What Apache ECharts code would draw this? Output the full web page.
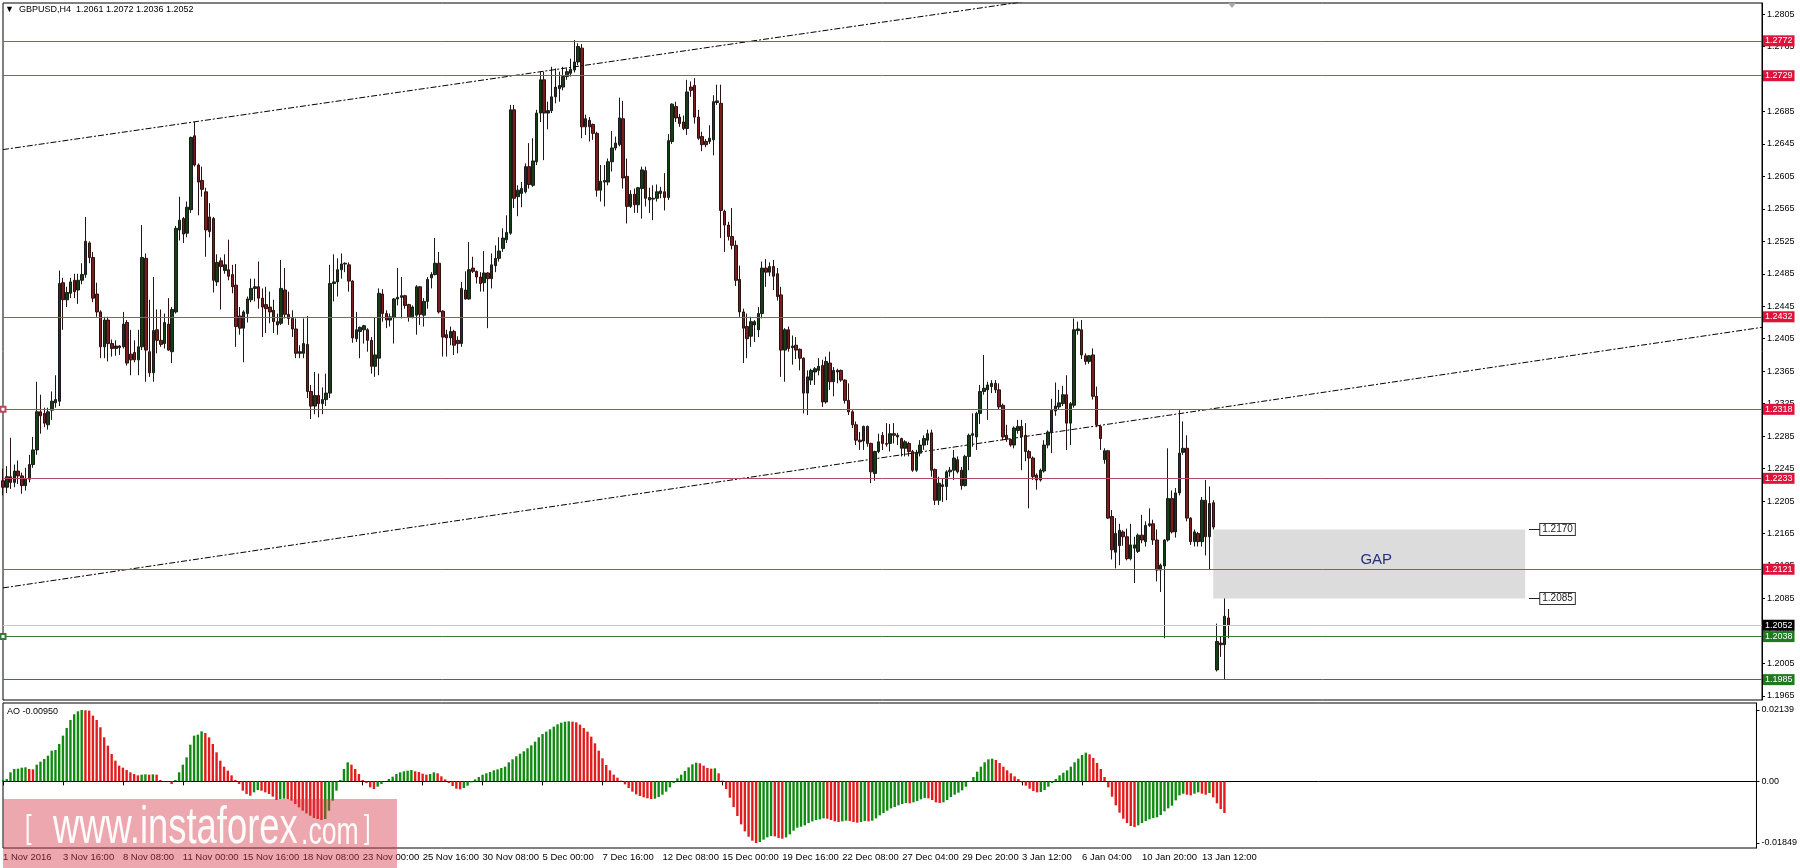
<!DOCTYPE html>
<html><head><meta charset="utf-8">
<script src="https://cdn.jsdelivr.net/npm/echarts@6/dist/echarts.min.js"></script>
<style>html,body{margin:0;padding:0;background:#fff}#c{width:1800px;height:868px}</style>
</head><body><div id="c"></div>
<script>
const xLabels = ['1 Nov 2016','3 Nov 16:00','8 Nov 08:00','11 Nov 00:00','15 Nov 16:00','18 Nov 08:00','23 Nov 00:00','25 Nov 16:00','30 Nov 08:00','5 Dec 00:00','7 Dec 16:00','12 Dec 08:00','15 Dec 00:00','19 Dec 16:00','22 Dec 08:00','27 Dec 04:00','29 Dec 20:00','3 Jan 12:00','6 Jan 04:00','10 Jan 20:00','13 Jan 12:00'];
const priceTicks = [1.2805,1.2765,1.2725,1.2685,1.2645,1.2605,1.2565,1.2525,1.2485,1.2445,1.2405,1.2365,1.2325,1.2285,1.2245,1.2205,1.2165,1.2125,1.2085,1.2045,1.2005,1.1965];
const aoTicks = [0.02139, 0, -0.01849];

// candles: [open, close, low, high]
const novBars = [
[1.2230,1.2222,1.2212,1.2245],[1.2222,1.2235,1.2215,1.2248],[1.2235,1.2228,1.2220,1.2283],[1.2228,1.2242,1.2222,1.2250],[1.2242,1.2236,1.2226,1.2255],
[1.2236,1.2224,1.2214,1.2240],[1.2224,1.2232,1.2218,1.2246],[1.2232,1.2250,1.2228,1.2262],[1.2250,1.2268,1.2246,1.2284],[1.2268,1.2315,1.2262,1.2352],
[1.2315,1.2310,1.2288,1.2336],[1.2313,1.2301,1.2296,1.2320],[1.2299,1.2315,1.2293,1.2320],[1.2317,1.2328,1.2305,1.2340],[1.2326,1.2330,1.2320,1.2360],
[1.2328,1.2473,1.2322,1.2489],[1.2474,1.2453,1.2416,1.2480],[1.2453,1.2462,1.2444,1.2469],[1.2461,1.2475,1.2455,1.2480],[1.2477,1.2463,1.2455,1.2485],
[1.2465,1.2477,1.2448,1.2485],[1.2477,1.2484,1.2472,1.2498],[1.2484,1.2525,1.2480,1.2555],[1.2523,1.2505,1.2498,1.2525],[1.2505,1.2455,1.2450,1.2512],
[1.2460,1.2438,1.2432,1.2474],[1.2438,1.2395,1.2381,1.2440],[1.2395,1.2428,1.2381,1.2432],[1.2428,1.2399,1.2377,1.2432],[1.2399,1.2393,1.2383,1.2404],
[1.2393,1.2396,1.2384,1.2403],[1.2396,1.2394,1.2385,1.2397],[1.2395,1.2423,1.2393,1.2438],[1.2425,1.2375,1.2372,1.2428],[1.2386,1.2379,1.2360,1.2416],
[1.2388,1.2379,1.2376,1.2403],[1.2379,1.2395,1.2360,1.2416],[1.2395,1.2505,1.2391,1.2545],[1.2504,1.2391,1.2352,1.2510],[1.2389,1.2363,1.2358,1.2453],
[1.2363,1.2415,1.2352,1.2481],[1.2416,1.2403,1.2387,1.2441],[1.2403,1.2398,1.2395,1.2441],[1.2399,1.2425,1.2393,1.2436],[1.2423,1.2391,1.2390,1.2455],
[1.2389,1.2441,1.2375,1.2444],[1.2438,1.2541,1.2436,1.2544],[1.2539,1.2551,1.2526,1.2580],[1.2553,1.2534,1.2523,1.2555],[1.2535,1.2567,1.2530,1.2574],
[1.2564,1.2653,1.2560,1.2654],[1.2655,1.2619,1.2617,1.2672],[1.2619,1.2598,1.2557,1.2621],[1.2600,1.2589,1.2580,1.2617],[1.2586,1.2539,1.2506,1.2591],
[1.2555,1.2537,1.2530,1.2572],[1.2553,1.2477,1.2462,1.2555],[1.2475,1.2499,1.2470,1.2509],[1.2501,1.2494,1.2441,1.2505],[1.2489,1.2496,1.2485,1.2509],
[1.2490,1.2482,1.2477,1.2527],[1.2484,1.2469,1.2461,1.2496],[1.2471,1.2420,1.2395,1.2497],[1.2433,1.2418,1.2410,1.2444],[1.2418,1.2438,1.2376,1.2440],
[1.2436,1.2454,1.2425,1.2457],[1.2453,1.2467,1.2450,1.2479],[1.2467,1.2469,1.2451,1.2479],[1.2469,1.2455,1.2442,1.2500],[1.2455,1.2444,1.2407,1.2467],
[1.2447,1.2442,1.2412,1.2469],[1.2444,1.2438,1.2424,1.2463],[1.2440,1.2426,1.2412,1.2453],[1.2426,1.2422,1.2410,1.2436],[1.2424,1.2467,1.2422,1.2502],
[1.2465,1.2435,1.2430,1.2492],[1.2435,1.2430,1.2422,1.2463],[1.2430,1.2417,1.2407,1.2440],[1.2417,1.2387,1.2381,1.2430],[1.2387,1.2389,1.2381,1.2397],
[1.2387,1.2399,1.2381,1.2430],[1.2398,1.2340,1.2332,1.2433],[1.2340,1.2322,1.2306,1.2348],[1.2322,1.2335,1.2312,1.2364],[1.2335,1.2325,1.2308,1.2362],
[1.2325,1.2330,1.2312,1.2345],[1.2330,1.2338,1.2322,1.2362],[1.2338,1.2473,1.2332,1.2496],[1.2473,1.2475,1.2451,1.2509],[1.2475,1.2490,1.2457,1.2504],
[1.2490,1.2497,1.2479,1.2510],[1.2497,1.2498,1.2487,1.2499],[1.2496,1.2476,1.2463,1.2499],[1.2476,1.2406,1.2400,1.2477],[1.2405,1.2416,1.2401,1.2438],
[1.2414,1.2419,1.2381,1.2420],[1.2416,1.2421,1.2399,1.2422],[1.2416,1.2403,1.2389,1.2418],[1.2403,1.2371,1.2362,1.2407],[1.2371,1.2385,1.2358,1.2431],
[1.2381,1.2461,1.2360,1.2467],[1.2460,1.2436,1.2426,1.2466],[1.2436,1.2428,1.2418,1.2440],[1.2428,1.2432,1.2420,1.2436],[1.2431,1.2454,1.2399,1.2455],
[1.2454,1.2456,1.2446,1.2492],[1.2456,1.2458,1.2430,1.2481],[1.2458,1.2446,1.2442,1.2459],[1.2447,1.2432,1.2426,1.2448],[1.2432,1.2444,1.2430,1.2446],
[1.2434,1.2469,1.2410,1.2471],[1.2469,1.2435,1.2422,1.2470],[1.2434,1.2451,1.2420,1.2455],[1.2451,1.2478,1.2442,1.2481],[1.2480,1.2484,1.2467,1.2487],
[1.2484,1.2498,1.2483,1.2529],[1.2498,1.2438,1.2436,1.2512],[1.2439,1.2407,1.2383,1.2440],[1.2410,1.2406,1.2383,1.2416],[1.2406,1.2414,1.2397,1.2420],
[1.2414,1.2397,1.2385,1.2416],[1.2403,1.2399,1.2387,1.2408],[1.2399,1.2467,1.2395,1.2475],[1.2465,1.2454,1.2453,1.2488],[1.2454,1.2490,1.2453,1.2524],
[1.2492,1.2488,1.2486,1.2506],[1.2488,1.2481,1.2473,1.2489],[1.2481,1.2473,1.2463,1.2487],[1.2474,1.2486,1.2463,1.2513],[1.2486,1.2479,1.2418,1.2487],
[1.2479,1.2496,1.2467,1.2510],[1.2495,1.2504,1.2487,1.2520]
];
const decBars = [
[1.2504,1.2513,1.2500,1.2530],[1.2516,1.2529,1.2512,1.2541],[1.2527,1.2536,1.2523,1.2557],[1.2535,1.2687,1.2533,1.2693],[1.2687,1.2578,1.2566,1.2693],
[1.2580,1.2588,1.2556,1.2594],[1.2584,1.2590,1.2567,1.2598],[1.2586,1.2617,1.2584,1.2621],[1.2617,1.2595,1.2590,1.2646],[1.2594,1.2624,1.2592,1.2652],
[1.2623,1.2683,1.2619,1.2687],[1.2683,1.2724,1.2672,1.2734],[1.2724,1.2683,1.2625,1.2734],[1.2683,1.2686,1.2663,1.2697],[1.2686,1.2703,1.2683,1.2740],
[1.2703,1.2715,1.2695,1.2738],[1.2713,1.2717,1.2697,1.2734],[1.2715,1.2728,1.2711,1.2740],[1.2728,1.2734,1.2724,1.2738],[1.2732,1.2737,1.2728,1.2750],
[1.2736,1.2746,1.2733,1.2773],[1.2746,1.2765,1.2742,1.2769],[1.2763,1.2666,1.2652,1.2768],[1.2666,1.2676,1.2656,1.2681],[1.2674,1.2666,1.2648,1.2678],
[1.2669,1.2658,1.2650,1.2670],[1.2658,1.2588,1.2580,1.2660],[1.2588,1.2599,1.2574,1.2619],[1.2598,1.2600,1.2568,1.2619],[1.2598,1.2623,1.2594,1.2627],
[1.2623,1.2640,1.2611,1.2661],[1.2640,1.2646,1.2637,1.2654],[1.2644,1.2677,1.2642,1.2702],[1.2676,1.2603,1.2590,1.2698],[1.2605,1.2568,1.2547,1.2627],
[1.2568,1.2583,1.2566,1.2588],[1.2583,1.2570,1.2560,1.2590],[1.2570,1.2591,1.2560,1.2592],[1.2590,1.2613,1.2553,1.2617],[1.2612,1.2578,1.2568,1.2617],
[1.2579,1.2576,1.2560,1.2591],[1.2577,1.2578,1.2551,1.2594],[1.2578,1.2586,1.2574,1.2595],[1.2584,1.2587,1.2578,1.2592],[1.2586,1.2579,1.2563,1.2609],
[1.2579,1.2649,1.2576,1.2657],[1.2648,1.2694,1.2645,1.2695],[1.2691,1.2677,1.2672,1.2697],[1.2678,1.2670,1.2666,1.2682],[1.2672,1.2664,1.2662,1.2680],
[1.2664,1.2709,1.2656,1.2724],[1.2715,1.2711,1.2703,1.2722],[1.2717,1.2678,1.2670,1.2726],[1.2678,1.2652,1.2650,1.2687],[1.2654,1.2644,1.2636,1.2660],
[1.2648,1.2644,1.2641,1.2651],[1.2648,1.2652,1.2645,1.2668],[1.2650,1.2697,1.2631,1.2705],[1.2696,1.2698,1.2693,1.2718],[1.2695,1.2563,1.2529,1.2718],
[1.2562,1.2545,1.2512,1.2564],[1.2545,1.2531,1.2526,1.2549],[1.2531,1.2520,1.2515,1.2566],[1.2520,1.2477,1.2470,1.2526],[1.2478,1.2438,1.2432,1.2495],
[1.2438,1.2418,1.2375,1.2442],[1.2420,1.2405,1.2381,1.2436],[1.2408,1.2426,1.2395,1.2432],[1.2422,1.2426,1.2401,1.2428],[1.2416,1.2436,1.2407,1.2444],
[1.2436,1.2492,1.2430,1.2500],[1.2492,1.2487,1.2469,1.2503],[1.2487,1.2494,1.2482,1.2499],[1.2494,1.2482,1.2465,1.2502],[1.2485,1.2457,1.2452,1.2492],
[1.2459,1.2391,1.2358,1.2469],[1.2391,1.2416,1.2352,1.2418],[1.2416,1.2393,1.2389,1.2420],[1.2394,1.2396,1.2373,1.2409],[1.2397,1.2391,1.2380,1.2407],
[1.2392,1.2381,1.2366,1.2393],[1.2381,1.2338,1.2313,1.2382],[1.2338,1.2358,1.2311,1.2366],[1.2354,1.2366,1.2348,1.2368],[1.2364,1.2368,1.2348,1.2370],
[1.2366,1.2371,1.2360,1.2381],[1.2372,1.2327,1.2321,1.2379],[1.2327,1.2377,1.2325,1.2383],[1.2375,1.2352,1.2342,1.2389],[1.2352,1.2366,1.2334,1.2370],
[1.2366,1.2364,1.2350,1.2368],[1.2366,1.2354,1.2352,1.2367],[1.2354,1.2329,1.2325,1.2355],[1.2329,1.2315,1.2311,1.2350],[1.2315,1.2299,1.2295,1.2317],
[1.2299,1.2280,1.2274,1.2303],[1.2280,1.2278,1.2268,1.2290],[1.2279,1.2297,1.2268,1.2298],[1.2297,1.2276,1.2272,1.2298],[1.2276,1.2241,1.2227,1.2277],
[1.2239,1.2266,1.2230,1.2267],[1.2266,1.2278,1.2264,1.2288],[1.2286,1.2276,1.2268,1.2290],[1.2276,1.2275,1.2272,1.2301],[1.2276,1.2288,1.2266,1.2300],
[1.2288,1.2286,1.2276,1.2301],[1.2286,1.2284,1.2274,1.2289],[1.2282,1.2270,1.2260,1.2283],[1.2270,1.2278,1.2260,1.2280],[1.2276,1.2266,1.2260,1.2278],
[1.2266,1.2243,1.2241,1.2268],[1.2243,1.2265,1.2241,1.2268],[1.2264,1.2274,1.2260,1.2280],[1.2274,1.2282,1.2268,1.2286],[1.2280,1.2288,1.2274,1.2293],
[1.2289,1.2243,1.2235,1.2293],[1.2244,1.2206,1.2200,1.2245],[1.2206,1.2227,1.2200,1.2235],[1.2225,1.2223,1.2204,1.2233],[1.2223,1.2241,1.2206,1.2243],
[1.2241,1.2243,1.2235,1.2247],[1.2243,1.2258,1.2231,1.2268],[1.2256,1.2241,1.2239,1.2260],[1.2243,1.2224,1.2219,1.2247],[1.2224,1.2260,1.2223,1.2262],
[1.2260,1.2286,1.2243,1.2288],[1.2286,1.2288,1.2272,1.2313],[1.2284,1.2313,1.2268,1.2315],[1.2313,1.2340,1.2300,1.2348],[1.2340,1.2344,1.2336,1.2385],
[1.2342,1.2348,1.2305,1.2352],[1.2346,1.2350,1.2338,1.2354]
];
const janBars = [
[1.2350,1.2342,1.2338,1.2354],[1.2342,1.2321,1.2318,1.2350],[1.2323,1.2284,1.2280,1.2325],[1.2286,1.2281,1.2278,1.2299],[1.2281,1.2274,1.2272,1.2282],
[1.2274,1.2295,1.2270,1.2297],[1.2292,1.2297,1.2288,1.2305],[1.2297,1.2284,1.2243,1.2305],[1.2286,1.2266,1.2254,1.2301],[1.2266,1.2258,1.2196,1.2268],
[1.2258,1.2235,1.2231,1.2260],[1.2237,1.2231,1.2219,1.2239],[1.2231,1.2243,1.2229,1.2245],[1.2242,1.2274,1.2240,1.2280],[1.2274,1.2290,1.2270,1.2292],
[1.2290,1.2317,1.2264,1.2331],[1.2316,1.2322,1.2310,1.2351],[1.2321,1.2326,1.2318,1.2342],[1.2325,1.2336,1.2322,1.2347],[1.2336,1.2301,1.2268,1.2360],
[1.2301,1.2325,1.2274,1.2327],[1.2323,1.2416,1.2320,1.2430],[1.2415,1.2417,1.2410,1.2426],[1.2416,1.2385,1.2380,1.2428],[1.2384,1.2377,1.2373,1.2387],
[1.2377,1.2384,1.2374,1.2385],[1.2385,1.2334,1.2330,1.2393],[1.2334,1.2299,1.2296,1.2346],[1.2297,1.2282,1.2268,1.2299],[1.2256,1.2267,1.2251,1.2270],
[1.2267,1.2184,1.2183,1.2268],[1.2186,1.2145,1.2133,1.2194],[1.2142,1.2165,1.2122,1.2184],[1.2150,1.2169,1.2126,1.2177],[1.2167,1.2161,1.2150,1.2169],
[1.2161,1.2134,1.2132,1.2171],[1.2134,1.2151,1.2132,1.2177],[1.2147,1.2151,1.2104,1.2161],[1.2143,1.2163,1.2141,1.2165],[1.2163,1.2157,1.2153,1.2188],
[1.2155,1.2175,1.2149,1.2180],[1.2175,1.2177,1.2173,1.2196],[1.2177,1.2157,1.2151,1.2182],[1.2157,1.2120,1.2106,1.2170],[1.2120,1.2126,1.2093,1.2128],
[1.2125,1.2157,1.2036,1.2158],[1.2157,1.2208,1.2155,1.2270],[1.2208,1.2167,1.2165,1.2218],[1.2167,1.2215,1.2160,1.2221],[1.2215,1.2264,1.2212,1.2317],
[1.2265,1.2270,1.2262,1.2303],[1.2270,1.2184,1.2180,1.2286],[1.2184,1.2155,1.2151,1.2185],[1.2155,1.2167,1.2149,1.2170],[1.2165,1.2155,1.2149,1.2167],
[1.2155,1.2206,1.2149,1.2210],[1.2206,1.2161,1.2138,1.2231],[1.2161,1.2202,1.2120,1.2223],[1.2203,1.2173,1.2170,1.2206],
[1.1997,1.2032,1.1995,1.2054],[1.2030,1.2028,1.2013,1.2038],[1.2028,1.2063,1.1985,1.2085],[1.2061,1.2052,1.2036,1.2072]
];

// Awesome Oscillator values per bar
const aoNov = [0.0004,0.0007,0.0027,0.0037,0.0038,0.0041,0.0042,0.0037,0.0036,0.0050,
0.0059,0.0067,0.0077,0.0092,0.0094,0.0112,0.0137,0.0160,0.0184,0.0201,
0.0210,0.02139,0.0213,0.0212,0.0197,0.0184,0.0162,0.0132,0.0107,0.0082,
0.0062,0.0047,0.0041,0.0034,0.0027,0.0022,0.0018,0.0020,0.0021,0.0020,
0.0021,0.0020,0.0004,0.0001,-0.0001,-0.0008,0.0004,0.0027,0.0050,0.0072,
0.0110,0.0137,0.0140,0.0150,0.0145,0.0132,0.0112,0.0087,0.0062,0.0044,
0.0032,0.0018,0.0004,-0.0008,-0.0028,-0.0038,-0.0043,-0.0033,-0.0026,-0.0028,
-0.0033,-0.0038,-0.0046,-0.0056,-0.0053,-0.0052,-0.0053,-0.0058,-0.0068,-0.0078,
-0.0088,-0.0096,-0.0103,-0.0110,-0.0113,-0.0116,-0.0113,-0.0088,-0.0058,-0.0028,
0.0004,0.0037,0.0057,0.0050,0.0037,0.0022,0.0004,-0.0005,-0.0018,-0.0023,
-0.0016,-0.0008,0.0001,0.0007,0.0014,0.0022,0.0027,0.0030,0.0032,0.0034,
0.0030,0.0028,0.0023,0.0020,0.0022,0.0027,0.0024,0.0015,0.0006,-0.0005,
-0.0014,-0.0022,-0.0024,-0.0020,-0.0013,-0.0003,0.0006,0.0013,0.0020,0.0024,
0.0028,0.0033];
const aoDec = [0.0036,0.0040,0.0044,0.0057,0.0066,0.0075,0.0083,0.0090,
0.0099,0.0108,0.0119,0.0132,0.0142,0.0149,0.0156,0.0164,0.0171,0.0176,
0.0179,0.0180,0.0179,0.0177,0.0170,0.0160,0.0149,0.0134,0.0114,0.0092,
0.0069,0.0049,0.0033,0.0020,0.0011,0.0002,-0.0009,-0.0020,-0.0031,-0.0039,
-0.0044,-0.0048,-0.0051,-0.0053,-0.0052,-0.0047,-0.0040,-0.0031,-0.0018,-0.0005,
0.0009,0.0020,0.0031,0.0042,0.0051,0.0056,0.0054,0.0047,0.0040,0.0038,
0.0039,0.0024,0.0002,-0.0023,-0.0049,-0.0077,-0.0104,-0.0129,-0.0150,-0.0166,
-0.0178,-0.01849,-0.0182,-0.0175,-0.0168,-0.0164,-0.0165,-0.0170,-0.0172,-0.0168,
-0.0159,-0.0148,-0.0139,-0.0136,-0.0132,-0.0125,-0.0120,-0.0116,-0.0114,-0.0111,
-0.0112,-0.0116,-0.0120,-0.0122,-0.0120,-0.0118,-0.0119,-0.0122,-0.0124,-0.0122,
-0.0119,-0.0120,-0.0118,-0.0111,-0.0102,-0.0095,-0.0088,-0.0081,-0.0077,-0.0072,
-0.0068,-0.0065,-0.0066,-0.0063,-0.0059,-0.0054,-0.0050,-0.0051,-0.0056,-0.0063,
-0.0065,-0.0063,-0.0056,-0.0047,-0.0040,-0.0034,-0.0027,-0.0016,-0.0002,0.0013,
0.0029,0.0044,0.0057,0.0066];
const aoJan = [0.0068,0.0064,0.0055,0.0044,0.0033,0.0024,0.0015,0.0007,-0.0003,-0.0013,
-0.0022,-0.0029,-0.0033,-0.0032,-0.0026,-0.0016,-0.0005,0.0007,0.0018,0.0026,
0.0033,0.0044,0.0057,0.0068,0.0079,0.0086,0.0081,0.0070,0.0055,0.0037,
0.0013,-0.0018,-0.0046,-0.0072,-0.0094,-0.0112,-0.0125,-0.0134,-0.0137,-0.0132,
-0.0125,-0.0119,-0.0114,-0.0110,-0.0108,-0.0101,-0.0090,-0.0081,-0.0073,-0.0057,
-0.0042,-0.0037,-0.0040,-0.0042,-0.0037,-0.0033,-0.0037,-0.0040,-0.0035,-0.0048,
-0.0066,-0.0083,-0.0095];

const redLevels = [1.2772, 1.2729, 1.2432, 1.2318, 1.2233, 1.2121];
const greenLevels = [1.2038, 1.1985];
const markedLevels = [1.2318, 1.2038];
const bidPrice = 1.2052;
const gapTop = 1.2170, gapBottom = 1.2085;
const gapStart = 322, gapEnd = 405;
const upperTrend = [[0, 1.2638], [468, 1.2952]];
const lowerTrend = [[0, 1.2098], [468, 1.2419]];
const headerText = '\u25BC  GBPUSD,H4  1.2061 1.2072 1.2036 1.2052';
const aoLabel = 'AO -0.00950';

const FF = '"Liberation Sans", Arial, sans-serif';
const N = 469;
const cats = Array.from({length: N}, (_, i) => String(i));
const bars = novBars.concat(decBars, janBars);
const ao = aoNov.concat(aoDec, aoJan);
const candleData = cats.map((c, i) => i < bars.length ? bars[i] : '-');
const AO_UP = '#118a11', AO_DN = '#e21c1c';
const aoData = cats.map((c, i) => i < ao.length ? {value: ao[i], itemStyle: {color: (i === 0 || ao[i] > ao[i - 1]) ? AO_UP : AO_DN}} : '-');
const showTick = (i) => i % 16 === 0 && (i / 16) < xLabels.length;

const RED_LINE = '#b24a60', GREEN_LINE = '#3a773a';
function level(v, lineColor, bg) {
  const item = {
    yAxis: v,
    lineStyle: {color: lineColor, width: 1, type: 'solid'},
    label: {show: true, position: 'end', distance: 1, formatter: v.toFixed(4), color: '#fff',
      backgroundColor: bg, padding: [1, 2, 0, 2], fontSize: 9, lineHeight: 10, fontFamily: FF}
  };
  if (markedLevels.indexOf(v) >= 0) { item.symbol = 'emptyRect'; item.symbolSize = 5; }
  return item;
}
function gapTag(v) {
  return [
    {coord: [gapEnd + 1, v], lineStyle: {color: '#222', width: 1, type: 'solid'},
     label: {show: true, position: 'end', distance: 0, formatter: v.toFixed(4), color: '#222',
       backgroundColor: '#fff', borderColor: '#333', borderWidth: 1, padding: [1, 2, 0, 2],
       fontSize: 10, lineHeight: 10, fontFamily: FF}},
    {coord: [gapEnd + 4, v]}
  ];
}
const markData = []
  .concat(redLevels.map(v => level(v, RED_LINE, '#dc143c')))
  .concat(greenLevels.map(v => level(v, GREEN_LINE, '#1e7a1e')))
  .concat([level(bidPrice, '#c8c8c8', '#000')])
  .concat([gapTag(gapTop), gapTag(gapBottom)]);

const trendStyle = {color: '#000', width: 1, type: [6, 2, 2, 2]};

const option = {
  animation: false,
  backgroundColor: '#fff',
  grid: [
    {left: 3, right: 38, top: 3, height: 697, show: true, borderColor: '#000', borderWidth: 1, backgroundColor: 'transparent'},
    {left: 3, right: 38, top: 703, height: 145, show: true, borderColor: '#000', borderWidth: 1, backgroundColor: 'transparent'}
  ],
  xAxis: [
    {gridIndex: 0, type: 'category', data: cats, boundaryGap: false,
     axisLine: {show: false}, axisTick: {show: false}, axisLabel: {show: false}, splitLine: {show: false}},
    {gridIndex: 1, type: 'category', data: cats, boundaryGap: false,
     axisLine: {show: true, lineStyle: {color: '#000', width: 1}},
     axisTick: {show: true, interval: showTick, length: 4, lineStyle: {color: '#000'}},
     axisLabel: {interval: showTick, formatter: (v, i) => xLabels[i / 16] || '', align: 'left',
       fontSize: 9.5, color: '#000', margin: 4, fontFamily: FF},
     splitLine: {show: false}}
  ],
  yAxis: [
    {gridIndex: 0, position: 'right', min: 1.19599, max: 1.28186,
     axisLine: {show: true, lineStyle: {color: '#000'}},
     axisTick: {show: true, customValues: priceTicks, length: 3, lineStyle: {color: '#000'}},
     axisLabel: {customValues: priceTicks, formatter: v => v.toFixed(4), fontSize: 9, color: '#000', margin: 5, fontFamily: FF},
     splitLine: {show: false}},
    {gridIndex: 1, position: 'right', min: -0.01999, max: 0.02349,
     axisLine: {show: true, lineStyle: {color: '#000'}},
     axisTick: {show: true, customValues: aoTicks, length: 3, lineStyle: {color: '#000'}},
     axisLabel: {customValues: aoTicks, formatter: v => (Math.abs(v) < 1e-9 ? '0.00' : v.toFixed(5)), fontSize: 9, color: '#000', margin: 5, fontFamily: FF},
     splitLine: {show: false}}
  ],
  series: [
    {type: 'line', name: 'lowerTrend', xAxisIndex: 0, yAxisIndex: 0, data: lowerTrend, symbol: 'none',
     lineStyle: trendStyle, z: 1, silent: true, clip: true,
     markArea: {silent: true, data: [[
       {coord: [gapStart, gapTop], itemStyle: {color: '#dcdcdc'},
        label: {show: true, position: 'inside', formatter: 'GAP', color: '#24307a', fontSize: 15, fontFamily: FF, offset: [7, -4]}},
       {coord: [gapEnd, gapBottom]}
     ]]}},
    {type: 'candlestick', name: 'GBPUSD', xAxisIndex: 0, yAxisIndex: 0, data: candleData, barWidth: 3, z: 2,
     itemStyle: {color: '#143f14', color0: '#7a1d1d', borderColor: '#1a1a1a', borderColor0: '#2a1212', borderWidth: 1},
     markLine: {silent: true, symbol: 'none', precision: 5, animation: false, data: markData}},
    {type: 'line', name: 'upperTrend', xAxisIndex: 0, yAxisIndex: 0, data: upperTrend, symbol: 'none',
     lineStyle: trendStyle, z: 3, silent: true, clip: true},
    {type: 'bar', name: 'AO', xAxisIndex: 1, yAxisIndex: 1, data: aoData, barWidth: 2.4, silent: true}
  ],
  graphic: [
    {type: 'text', x: 5, y: 10, style: {text: headerText, fill: '#000', font: '9px ' + FF, textAlign: 'left', textVerticalAlign: 'middle', align: 'left', verticalAlign: 'middle'}},
    {type: 'text', x: 7, y: 712, style: {text: aoLabel, fill: '#000', font: '9px ' + FF, textAlign: 'left', textVerticalAlign: 'middle', align: 'left', verticalAlign: 'middle'}},
    {type: 'polygon', shape: {points: [[1228, 3], [1236, 3], [1232, 8]]}, style: {fill: '#a8a8a8'}},
    {type: 'rect', shape: {x: 3, y: 799, width: 394, height: 69}, style: {fill: 'rgba(214,60,75,0.45)'}, z: 100},
    {type: 'text', x: 25, y: 829, scaleX: 0.7, z: 101, style: {text: '[', fill: 'rgba(255,255,255,0.95)', font: '34px ' + FF, textAlign: 'left', textVerticalAlign: 'middle', align: 'left', verticalAlign: 'middle'}},
    {type: 'text', x: 53, y: 829, scaleX: 0.7, z: 101, style: {text: 'www.instaforex', fill: 'rgba(255,255,255,0.95)', font: '52px ' + FF, textAlign: 'left', textVerticalAlign: 'middle', align: 'left', verticalAlign: 'middle'}},
    {type: 'text', x: 301, y: 834, scaleX: 0.7, z: 101, style: {text: '.com', fill: 'rgba(255,255,255,0.95)', font: '38px ' + FF, textAlign: 'left', textVerticalAlign: 'middle', align: 'left', verticalAlign: 'middle'}},
    {type: 'text', x: 364, y: 829, scaleX: 0.7, z: 101, style: {text: ']', fill: 'rgba(255,255,255,0.95)', font: '34px ' + FF, textAlign: 'left', textVerticalAlign: 'middle', align: 'left', verticalAlign: 'middle'}}
  ]
};
const chart = echarts.init(document.getElementById('c'));
chart.setOption(option);
</script>
</body></html>
